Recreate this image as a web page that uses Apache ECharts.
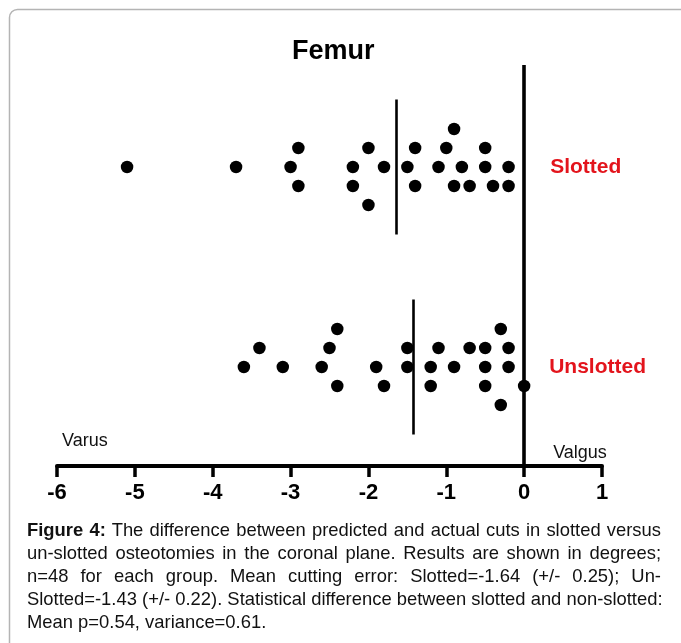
<!DOCTYPE html>
<html>
<head>
<meta charset="utf-8">
<title>Femur</title>
<script src="https://cdn.jsdelivr.net/npm/echarts@6/dist/echarts.min.js"></script>
<style>
  html, body { margin: 0; padding: 0; background: #fff; }
  #wrap { position: relative; width: 681px; height: 643px; overflow: hidden; }
  #chart { position: absolute; left: 0; top: 0; width: 681px; height: 643px; }
  #caption {
    position: absolute; left: 27px; top: 518px; width: 634px;
    font-family: "Liberation Sans", Arial, sans-serif; font-size: 18.4px;
    line-height: 23px; color: #111;
  }
  #caption .ln { white-space: nowrap; text-align: justify; text-align-last: justify; }
  #caption .ln.last { text-align: left; text-align-last: left; }
</style>
</head>
<body>
<div id="wrap">
  <div id="chart"></div>
  <div id="caption">
    <div class="ln"><b>Figure 4:</b> The difference between predicted and actual cuts in slotted versus</div>
    <div class="ln">un-slotted osteotomies in the coronal plane. Results are shown in degrees;</div>
    <div class="ln">n=48 for each group. Mean cutting error: Slotted=-1.64 (+/- 0.25); Un-</div>
    <div class="ln">Slotted=-1.43 (+/- 0.22). Statistical difference between slotted and non-slotted:</div>
    <div class="ln last">Mean p=0.54, variance=0.61.</div>
  </div>
</div>
<script>
// Cutting error in degrees (negative = varus), one point per osteotomy.
const groupNames = ['Unslotted', 'Slotted'];

const slottedValues = [-5.1, -3.7, -3.0, -2.9, -2.9, -2.2, -2.2, -2.0, -2.0, -1.8, -1.5, -1.4,
                       -1.4, -1.1, -1.0, -0.9, -0.9, -0.8, -0.7, -0.5, -0.5, -0.4, -0.2, -0.2];
// stacking lane of each point in the column scatter (0 = centre row, +up / -down)
const slottedLanes  = [0, 0, 0, 1, -1, 0, -1, 1, -2, 0, 0, 1,
                       -1, 0, 1, 2, -1, 0, -1, 0, 1, -1, 0, -1];

const unslottedValues = [-3.6, -3.4, -3.1, -2.6, -2.5, -2.4, -2.4, -1.9, -1.8, -1.5, -1.5, -1.2,
                         -1.2, -1.1, -0.9, -0.7, -0.5, -0.5, -0.5, -0.3, -0.3, -0.2, -0.2, 0.0];
const unslottedLanes  = [0, 1, 0, 0, 1, 2, -1, 0, -1, 1, 0, 0,
                         -1, 1, 0, 1, 1, 0, -1, 2, -2, 1, 0, -1];

const xTicks = [-6, -5, -4, -3, -2, -1, 0, 1];

const LANE_STEP = 0.095;   // vertical spacing between stacked points (group units)
const MEAN_HALF = 0.3375;  // half-height of the mean bar (group units)
const LABEL_RED = '#e3141c';

function mean(arr) { return arr.reduce((s, v) => s + v, 0) / arr.length; }

function points(values, lanes, groupIndex) {
  return values.map((v, i) => [v, groupIndex + lanes[i] * LANE_STEP]);
}

function meanBar(values, groupIndex) {
  const m = mean(values);
  return [{ coord: [m, groupIndex - MEAN_HALF] }, { coord: [m, groupIndex + MEAN_HALF] }];
}

const chart = echarts.init(document.getElementById('chart'), null, { renderer: 'canvas' });

const dotStyle = { color: '#000', opacity: 1 };
const meanLineStyle = { color: '#000', width: 2.6, type: 'solid', opacity: 1 };

const option = {
  animation: false,
  backgroundColor: '#fff',
  title: {
    text: 'Femur',
    left: 287,
    top: 33,
    textStyle: {
      fontFamily: '"Liberation Sans", Arial, sans-serif',
      fontSize: 27, fontWeight: 'bold', color: '#000'
    }
  },
  grid: { left: 57, right: 79, top: 65, bottom: 177, containLabel: false },
  xAxis: {
    type: 'value',
    min: xTicks[0],
    max: xTicks[xTicks.length - 1],
    interval: 1,
    splitLine: { show: false },
    axisLine: { show: true, onZero: false, lineStyle: { color: '#000', width: 4 } },
    axisTick: { show: true, length: 11, lineStyle: { color: '#000', width: 3.5 } },
    axisLabel: {
      margin: 16,
      fontFamily: '"Liberation Sans", Arial, sans-serif',
      fontSize: 22, fontWeight: 'bold', color: '#000'
    }
  },
  yAxis: {
    type: 'value',
    min: -0.495,
    max: 1.51,
    show: false,
    splitLine: { show: false }
  },
  series: [
    {
      name: groupNames[1],
      type: 'scatter',
      symbol: 'circle',
      symbolSize: 12.5,
      itemStyle: dotStyle,
      data: points(slottedValues, slottedLanes, 1),
      markLine: {
        silent: true, symbol: 'none', label: { show: false },
        lineStyle: meanLineStyle,
        data: [meanBar(slottedValues, 1)]
      }
    },
    {
      name: groupNames[0],
      type: 'scatter',
      symbol: 'circle',
      symbolSize: 12.5,
      itemStyle: dotStyle,
      data: points(unslottedValues, unslottedLanes, 0),
      markLine: {
        silent: true, symbol: 'none', label: { show: false },
        lineStyle: meanLineStyle,
        data: [
          meanBar(unslottedValues, 0),
          { xAxis: 0, lineStyle: { color: '#000', width: 3.6, type: 'solid', opacity: 1 } }
        ]
      }
    }
  ]
};

chart.setOption(option);

// Group names beside the zero line, direction words above the axis, outer frame.
const zeroPx = chart.convertToPixel({ gridIndex: 0 }, [0, 0]);
const slotPx = chart.convertToPixel({ gridIndex: 0 }, [0, 1]);
const axisY = chart.convertToPixel({ gridIndex: 0 }, [0, -0.495])[1];
const leftX = chart.convertToPixel({ gridIndex: 0 }, [xTicks[0], 0])[0];

const groupFont = { fontFamily: '"Liberation Sans", Arial, sans-serif', fontSize: 21, fontWeight: 'bold' };
const sideFont = { fontFamily: '"Liberation Sans", Arial, sans-serif', fontSize: 18 };

chart.setOption({
  graphic: [
    {
      type: 'rect', silent: true, z: 0,
      shape: { x: 9.5, y: 9.5, width: 720, height: 720, r: 8 },
      style: { fill: null, stroke: '#b4b4b4', lineWidth: 1.5 }
    },
    {
      type: 'text', silent: true,
      x: zeroPx[0] + 26, y: slotPx[1],
      style: Object.assign({ text: groupNames[1], fill: LABEL_RED, verticalAlign: 'middle', align: 'left' }, groupFont)
    },
    {
      type: 'text', silent: true,
      x: zeroPx[0] + 25, y: zeroPx[1],
      style: Object.assign({ text: groupNames[0], fill: LABEL_RED, verticalAlign: 'middle', align: 'left' }, groupFont)
    },
    {
      type: 'text', silent: true,
      x: leftX + 5, y: axisY - 25,
      style: Object.assign({ text: 'Varus', fill: '#111', verticalAlign: 'middle', align: 'left' }, sideFont)
    },
    {
      type: 'text', silent: true,
      x: zeroPx[0] + 29, y: axisY - 13,
      style: Object.assign({ text: 'Valgus', fill: '#111', verticalAlign: 'middle', align: 'left' }, sideFont)
    }
  ]
});
</script>
</body>
</html>
